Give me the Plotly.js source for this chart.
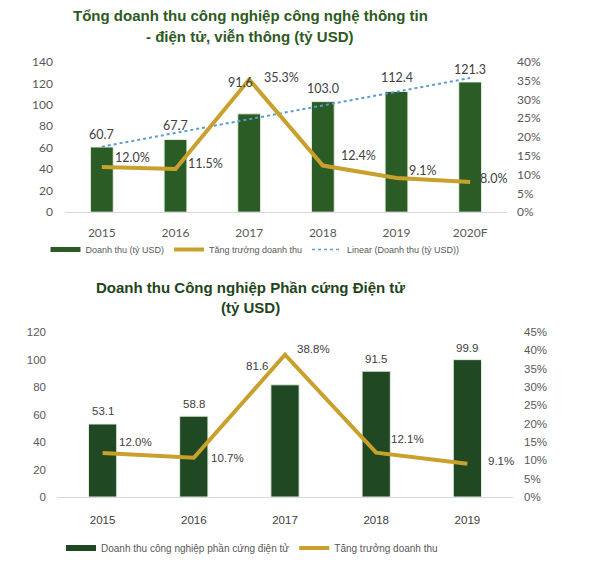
<!DOCTYPE html>
<html><head><meta charset="utf-8">
<script src="https://cdn.plot.ly/plotly-3.0.1.min.js"></script>
<style>html,body{margin:0;padding:0;background:#fff}#c{width:600px;height:563px}</style>
</head><body><div id="c"></div>
<script>
// ---- data: chart 1 ----
const years1 = ['2015','2016','2017','2018','2019','2020F'];
const revenue1 = [60.7, 67.7, 91.6, 103.0, 112.4, 121.3];
const growth1 = [0.120, 0.115, 0.353, 0.124, 0.091, 0.080];
const trendYears1 = ['2015','2020F'];
const trendValues1 = [61, 125];
// ---- data: chart 2 ----
const years2 = ['2015','2016','2017','2018','2019'];
const revenue2 = [53.1, 58.8, 81.6, 91.5, 99.9];
const growth2 = [0.120, 0.107, 0.388, 0.121, 0.091];
// ---- names / titles ----
const title1 = ['Tổng doanh thu công nghiệp công nghệ thông tin', '- điện tử, viễn thông (tỷ USD)'];
const title2 = ['Doanh thu Công nghiệp Phần cứng Điện tử', '(tỷ USD)'];
const names1 = ['Doanh thu (tỷ USD)', 'Tăng trưởng doanh thu', 'Linear (Doanh thu (tỷ USD))'];
const names2 = ['Doanh thu công nghiệp phần cứng điện tử', 'Tăng trưởng doanh thu'];

// ---- styles ----
const green1 = '#2c5c26', green2 = '#1f4823', gold = '#c9a02c', blue = '#5b9bd5';
const txt = '#404040', tick = '#595959';
const F1 = 'Lato, "Liberation Sans", Arial, sans-serif';
const F2 = '"Liberation Sans", Arial, sans-serif';

// label offsets (pixels): [xshift, yshift]
const barOff1 = [[0,13],[0,14],[-9,31],[0,13],[0,14],[0,12]];
const lineOff1 = [[31,10],[30,5],[32,2],[36,10],[26,7],[23,4]];
const barOff2 = [[0,13],[0,12],[-28,19],[0,12],[0,12]];
const lineOff2 = [[33,11],[34,0],[28,6],[31,14],[34,3]];

const traces = [
  {type:'bar', x:years1, y:revenue1, xaxis:'x', yaxis:'y', marker:{color:green1, line:{color:'#e6f0e0', width:1}}, width:0.31, showlegend:false, hoverinfo:'skip'},
  {type:'scatter', mode:'lines', x:years1, y:growth1, xaxis:'x', yaxis:'y2', line:{color:gold, width:4}, showlegend:false, hoverinfo:'skip'},
  {type:'scatter', mode:'lines', x:trendYears1, y:trendValues1, xaxis:'x', yaxis:'y', line:{color:blue, width:2, dash:'dot'}, showlegend:false, hoverinfo:'skip'},
  {type:'bar', x:years2, y:revenue2, xaxis:'x2', yaxis:'y3', marker:{color:green2, line:{color:'#e6f0e0', width:1}}, width:0.31, showlegend:false, hoverinfo:'skip'},
  {type:'scatter', mode:'lines', x:years2, y:growth2, xaxis:'x2', yaxis:'y4', line:{color:gold, width:4}, showlegend:false, hoverinfo:'skip'},
  // legend entries
  {type:'scatter', mode:'lines', x:[years1[0]], y:[null], xaxis:'x', yaxis:'y', name:names1[0], line:{color:green1, width:5}, legend:'legend'},
  {type:'scatter', mode:'lines', x:[years1[0]], y:[null], xaxis:'x', yaxis:'y', name:names1[1], line:{color:gold, width:4}, legend:'legend'},
  {type:'scatter', mode:'lines', x:[years1[0]], y:[null], xaxis:'x', yaxis:'y', name:names1[2], line:{color:blue, width:1.5, dash:'dot'}, legend:'legend'},
  {type:'scatter', mode:'lines', x:[years2[0]], y:[null], xaxis:'x2', yaxis:'y3', name:names2[0], line:{color:green2, width:6}, legend:'legend2'},
  {type:'scatter', mode:'lines', x:[years2[0]], y:[null], xaxis:'x2', yaxis:'y3', name:names2[1], line:{color:gold, width:4}, legend:'legend2'}
];

const ann = [];
function titleAnn(lines, y1, y2, color) {
  ann.push({xref:'paper', yref:'paper', x:250/600, y:1-y1/563, text:'<b>'+lines[0]+'</b>', showarrow:false, xanchor:'center', yanchor:'middle', font:{family:F2, size:15, color:color}});
  ann.push({xref:'paper', yref:'paper', x:250/600, y:1-y2/563, text:'<b>'+lines[1]+'</b>', showarrow:false, xanchor:'center', yanchor:'middle', font:{family:F2, size:15, color:color}});
}
titleAnn(title1, 16, 37, '#2d5a22');
titleAnn(title2, 293, 313, '#1f4420');

// annotations on category axes use the category index
years1.forEach((c,i)=>{
  ann.push({xref:'x', yref:'y', x:i, y:revenue1[i], text:revenue1[i].toFixed(1), showarrow:false, xanchor:'center', yanchor:'middle', xshift:barOff1[i][0], yshift:barOff1[i][1], font:{family:F1, size:12.5, color:txt}});
  ann.push({xref:'x', yref:'y2', x:i, y:growth1[i], text:(growth1[i]*100).toFixed(1)+'%', showarrow:false, xanchor:'center', yanchor:'middle', xshift:lineOff1[i][0], yshift:lineOff1[i][1], font:{family:F1, size:12.5, color:txt}});
});
years2.forEach((c,i)=>{
  ann.push({xref:'x2', yref:'y3', x:i, y:revenue2[i], text:revenue2[i].toFixed(1), showarrow:false, xanchor:'center', yanchor:'middle', xshift:barOff2[i][0], yshift:barOff2[i][1], font:{family:F2, size:11.5, color:txt}});
  ann.push({xref:'x2', yref:'y4', x:i, y:growth2[i], text:(growth2[i]*100).toFixed(1)+'%', showarrow:false, xanchor:'center', yanchor:'middle', xshift:lineOff2[i][0], yshift:lineOff2[i][1], font:{family:F2, size:11.5, color:txt}});
});

const xBase = {type:'category', showgrid:false, zeroline:false, showline:true, linecolor:'#d9d9d9', linewidth:1, ticks:'', fixedrange:true, categoryorder:'array'};
const yBase = {showgrid:false, zeroline:false, showline:false, ticks:'', fixedrange:true};

const layout = {
  width:600, height:563, margin:{l:0, r:0, t:0, b:0},
  paper_bgcolor:'#fff', plot_bgcolor:'rgba(0,0,0,0)',
  showlegend:true,
  xaxis: Object.assign({}, xBase, {domain:[65/600, 507/600], anchor:'y', categoryarray:years1, range:[-0.5, years1.length-0.5], ticklabelstandoff:9, tickfont:{family:F1, size:12, color:tick}}),
  yaxis: Object.assign({}, yBase, {domain:[1-216/563, 1-63/563], anchor:'x', range:[0,140], dtick:20, ticklabelstandoff:11, tickfont:{family:F1, size:12, color:tick}}),
  yaxis2: Object.assign({}, yBase, {domain:[1-216/563, 1-63/563], anchor:'x', overlaying:'y', side:'right', range:[0,0.40], dtick:0.05, tickformat:'.0%', ticklabelstandoff:9, tickfont:{family:F1, size:12, color:tick}}),
  xaxis2: Object.assign({}, xBase, {domain:[57/600, 513/600], anchor:'y3', categoryarray:years2, range:[-0.5, years2.length-0.5], ticklabelstandoff:12, tickfont:{family:F2, size:11.5, color:txt}}),
  yaxis3: Object.assign({}, yBase, {domain:[1-506/563, 1-338/563], anchor:'x2', range:[0,120], dtick:20, ticklabelstandoff:10, tickfont:{family:F2, size:11.5, color:tick}}),
  yaxis4: Object.assign({}, yBase, {domain:[1-506/563, 1-338/563], anchor:'x2', overlaying:'y3', side:'right', range:[0,0.45], dtick:0.05, tickformat:'.0%', ticklabelstandoff:10, tickfont:{family:F2, size:11.5, color:tick}}),
  legend: {orientation:'h', x:255/600, xanchor:'center', y:1-254/563, yanchor:'middle', font:{family:F2, size:9, color:tick}, bgcolor:'rgba(0,0,0,0)'},
  legend2: {orientation:'h', x:252/600, xanchor:'center', y:1-558/563, yanchor:'middle', font:{family:F2, size:10, color:tick}, bgcolor:'rgba(0,0,0,0)'},
  annotations: ann
};
Plotly.newPlot('c', traces, layout, {staticPlot:true, displayModeBar:false});
</script></body></html>
